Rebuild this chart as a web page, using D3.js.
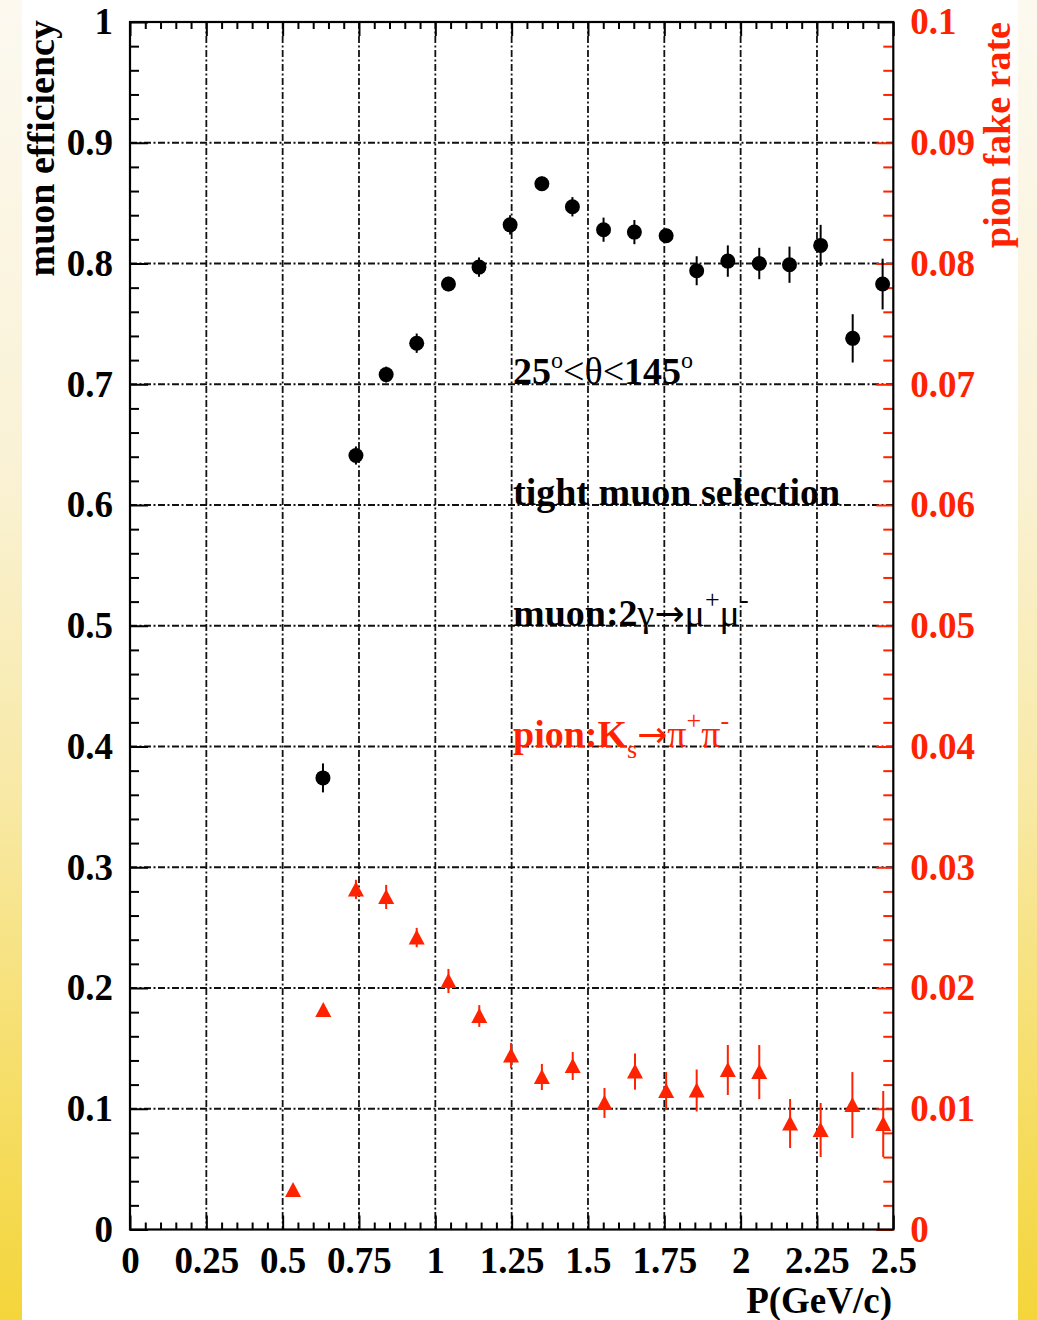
<!DOCTYPE html>
<html>
<head>
<meta charset="utf-8">
<script src="https://cdn.jsdelivr.net/npm/d3@7"></script>
<style>
  html, body { margin: 0; padding: 0; background: #ffffff; }
  svg { display: block; }
  text { font-family: "Liberation Serif", "Times New Roman", serif; }
</style>
</head>
<body>
<svg id="chart" width="1037" height="1320"></svg>
<script>
// Muon efficiency (left axis) from 2γ→μ+μ- and pion fake rate (right axis) from Ks→π+π-
const muonP    = [0.632, 0.740, 0.839, 0.939, 1.043, 1.143, 1.245, 1.349, 1.449, 1.551,
                  1.652, 1.756, 1.856, 1.958, 2.061, 2.160, 2.262, 2.367, 2.465];
const muonEff  = [0.374, 0.641, 0.708, 0.734, 0.783, 0.797, 0.832, 0.866, 0.847, 0.828,
                  0.826, 0.823, 0.794, 0.802, 0.800, 0.799, 0.815, 0.738, 0.783];
const muonErr  = [0.012, 0.0075, 0.0066, 0.008, 0.006, 0.008, 0.008, 0.006, 0.008, 0.010,
                  0.010, 0.006, 0.012, 0.013, 0.013, 0.015, 0.017, 0.020, 0.021];

const pionP    = [0.534, 0.633, 0.740, 0.839, 0.939, 1.043, 1.144, 1.248, 1.349, 1.450,
                  1.554, 1.654, 1.756, 1.856, 1.958, 2.061, 2.162, 2.262, 2.366, 2.467];
const pionRate = [0.00327, 0.01818, 0.02816, 0.02754, 0.02418, 0.02058, 0.01768, 0.01441, 0.01263, 0.01354,
                  0.01048, 0.01308, 0.01147, 0.01151, 0.01321, 0.01304, 0.00878, 0.00824, 0.01031, 0.00874];
const pionErr  = [0.0003, 0.0005, 0.0008, 0.0010, 0.0008, 0.0010, 0.0009, 0.00104, 0.00108, 0.00116,
                  0.00124, 0.0015, 0.00157, 0.00174, 0.00207, 0.00224, 0.00203, 0.00224, 0.00273, 0.00273];

const xTickLabels     = ["0", "0.25", "0.5", "0.75", "1", "1.25", "1.5", "1.75", "2", "2.25", "2.5"];
const effTickLabels   = ["0", "0.1", "0.2", "0.3", "0.4", "0.5", "0.6", "0.7", "0.8", "0.9", "1"];
const rateTickLabels  = ["0", "0.01", "0.02", "0.03", "0.04", "0.05", "0.06", "0.07", "0.08", "0.09", "0.1"];

const RED = "#ff2200";
const svg = d3.select("#chart");

// page background with the yellow side strips
const defs = svg.append("defs");
const grad = defs.append("linearGradient").attr("id", "strip").attr("x1", 0).attr("y1", 0).attr("x2", 0).attr("y2", 1);
[[0, "#fcf9f0"], [0.35, "#faf2d6"], [0.6, "#f8e9a6"], [0.8, "#f6df6e"], [1, "#f4d53a"]]
  .forEach(([o, c]) => grad.append("stop").attr("offset", o).attr("stop-color", c));
svg.append("rect").attr("width", 1037).attr("height", 1320).attr("fill", "#ffffff");
svg.append("rect").attr("x", 0).attr("y", 0).attr("width", 22).attr("height", 1320).attr("fill", "url(#strip)");
svg.append("rect").attr("x", 1018).attr("y", 0).attr("width", 19).attr("height", 1320).attr("fill", "url(#strip)");

const L = 130, R = 893.3, T = 22, B = 1229.5;
const x = d3.scaleLinear().domain([0, 2.5]).range([L, R]);
const yEff = d3.scaleLinear().domain([0, 1]).range([B, T]);
const yRate = d3.scaleLinear().domain([0, 0.1]).range([B, T]);

const xMajor = xTickLabels.map(Number);
const effMajor = effTickLabels.map(Number);
const rateMajor = rateTickLabels.map(Number);
const xMinor = d3.range(0, 51).map(i => i * 0.05).filter(v => Math.abs(v / 0.25 - Math.round(v / 0.25)) > 1e-6);
const effMinor = d3.range(0, 51).map(i => i * 0.02).filter(v => Math.abs(v * 10 - Math.round(v * 10)) > 1e-6);
const rateMinor = effMinor.map(v => v / 10);

// grid
const grid = svg.append("g").attr("stroke", "#111").attr("stroke-width", 1.8)
  .attr("stroke-dasharray", "7,2.5,2,2.5").attr("fill", "none");
grid.selectAll("line.v").data(xMajor.slice(1, -1)).join("line")
  .attr("x1", d => x(d)).attr("x2", d => x(d)).attr("y1", T).attr("y2", B);
grid.selectAll("line.h").data(effMajor.slice(1, -1)).join("line")
  .attr("x1", L).attr("x2", R).attr("y1", d => yEff(d)).attr("y2", d => yEff(d));

// axes
function styleAxis(g, color) {
  g.select(".domain").remove();
  g.selectAll(".tick line").attr("stroke", color).attr("stroke-width", 2);
  g.selectAll(".tick text").attr("fill", color).attr("font-size", 37).attr("font-weight", "bold")
    .attr("font-family", "Liberation Serif, serif");
}
const bottom = svg.append("g").attr("transform", `translate(0,${B})`)
  .call(d3.axisBottom(x).tickValues(xMajor).tickSize(-14).tickPadding(14)
    .tickFormat((d, i) => xTickLabels[i]));
styleAxis(bottom, "#000");
bottom.selectAll(".tick text").attr("dy", "0.71em").attr("y", 17);
svg.append("g").attr("transform", `translate(0,${B})`)
  .call(d3.axisBottom(x).tickValues(xMinor).tickSize(-7).tickFormat(""))
  .call(g => styleAxis(g, "#000"));
svg.append("g").attr("transform", `translate(0,${T})`)
  .call(d3.axisTop(x).tickValues(xMajor).tickSize(-14).tickFormat(""))
  .call(g => styleAxis(g, "#000"));
svg.append("g").attr("transform", `translate(0,${T})`)
  .call(d3.axisTop(x).tickValues(xMinor).tickSize(-7).tickFormat(""))
  .call(g => styleAxis(g, "#000"));

const left = svg.append("g").attr("transform", `translate(${L},0)`)
  .call(d3.axisLeft(yEff).tickValues(effMajor).tickSize(-18).tickPadding(17)
    .tickFormat((d, i) => effTickLabels[i]));
styleAxis(left, "#000");
svg.append("g").attr("transform", `translate(${L},0)`)
  .call(d3.axisLeft(yEff).tickValues(effMinor).tickSize(-9).tickFormat(""))
  .call(g => styleAxis(g, "#000"));

const right = svg.append("g").attr("transform", `translate(${R},0)`)
  .call(d3.axisRight(yRate).tickValues(rateMajor).tickSize(-17).tickPadding(17)
    .tickFormat((d, i) => rateTickLabels[i]));
styleAxis(right, RED);
svg.append("g").attr("transform", `translate(${R},0)`)
  .call(d3.axisRight(yRate).tickValues(rateMinor).tickSize(-10).tickFormat(""))
  .call(g => styleAxis(g, RED));

// frame
svg.append("rect").attr("x", L).attr("y", T).attr("width", R - L).attr("height", B - T)
  .attr("fill", "none").attr("stroke", "#000").attr("stroke-width", 2.2);

// muon efficiency points
const muon = muonP.map((p, i) => ({ p, v: muonEff[i], e: muonErr[i] }));
const mg = svg.append("g");
mg.selectAll("line").data(muon).join("line")
  .attr("x1", d => x(d.p)).attr("x2", d => x(d.p))
  .attr("y1", d => yEff(d.v - d.e)).attr("y2", d => yEff(d.v + d.e))
  .attr("stroke", "#000").attr("stroke-width", 2);
mg.selectAll("circle").data(muon).join("circle")
  .attr("cx", d => x(d.p)).attr("cy", d => yEff(d.v)).attr("r", 7.5).attr("fill", "#000");

// pion fake-rate points
const pion = pionP.map((p, i) => ({ p, v: pionRate[i], e: pionErr[i] }));
const pg = svg.append("g");
pg.selectAll("line").data(pion).join("line")
  .attr("x1", d => x(d.p)).attr("x2", d => x(d.p))
  .attr("y1", d => yRate(d.v - d.e)).attr("y2", d => yRate(d.v + d.e))
  .attr("stroke", RED).attr("stroke-width", 2);
pg.selectAll("path").data(pion).join("path")
  .attr("d", d => {
    const cx = x(d.p), cy = yRate(d.v);
    return `M${cx},${cy - 8}L${cx + 8},${cy + 7}L${cx - 8},${cy + 7}Z`;
  })
  .attr("fill", RED);

// axis titles
svg.append("text").attr("x", 892).attr("y", 1313).attr("text-anchor", "end")
  .attr("font-size", 37).attr("font-weight", "bold").attr("fill", "#000").text("P(GeV/c)");
svg.append("text").attr("transform", "translate(54,20) rotate(-90)").attr("text-anchor", "end")
  .attr("font-size", 38).attr("font-weight", "bold").attr("fill", "#000").text("muon efficiency");
svg.append("text").attr("transform", "translate(1010,22) rotate(-90)").attr("text-anchor", "end")
  .attr("font-size", 38).attr("font-weight", "bold").attr("fill", RED).text("pion fake rate");

// annotations
function label(xp, yp, color, parts) {
  const t = svg.append("text").attr("x", xp).attr("y", yp).attr("fill", color).attr("font-size", 38);
  parts.forEach(([s, opt]) => {
    const ts = t.append("tspan").text(s);
    if (opt && opt.w) ts.attr("font-weight", opt.w);
    if (opt && opt.fs) ts.attr("font-size", opt.fs);
    if (opt && opt.dy) ts.attr("dy", opt.dy);
    if (opt && opt.ff) ts.attr("font-family", opt.ff);
  });
}
const ARROW_FONT = "DejaVu Sans, sans-serif";
label(513, yEff(0.7), "#000", [
  ["25", { w: "bold" }], ["o", { fs: 24, dy: -16 }], ["<θ<", { dy: 16 }],
  ["145", { w: "bold" }], ["o", { fs: 24, dy: -16 }]
]);
label(513, yEff(0.6), "#000", [["tight muon selection", { w: "bold" }]]);
label(513, yEff(0.5), "#000", [
  ["muon:2", { w: "bold" }], ["γ", {}], ["→", { ff: ARROW_FONT, fs: 36 }], ["μ", {}],
  ["+", { fs: 26, dy: -18 }], ["μ", { dy: 18 }], ["-", { fs: 26, dy: -18 }]
]);
label(513, yEff(0.4), RED, [
  ["pion:K", { w: "bold" }], ["s", { fs: 26, dy: 11 }], ["→", { dy: -11, ff: ARROW_FONT, fs: 36 }],
  ["π", {}], ["+", { fs: 26, dy: -18 }], ["π", { dy: 18 }], ["-", { fs: 26, dy: -18 }]
]);
</script>
</body>
</html>
